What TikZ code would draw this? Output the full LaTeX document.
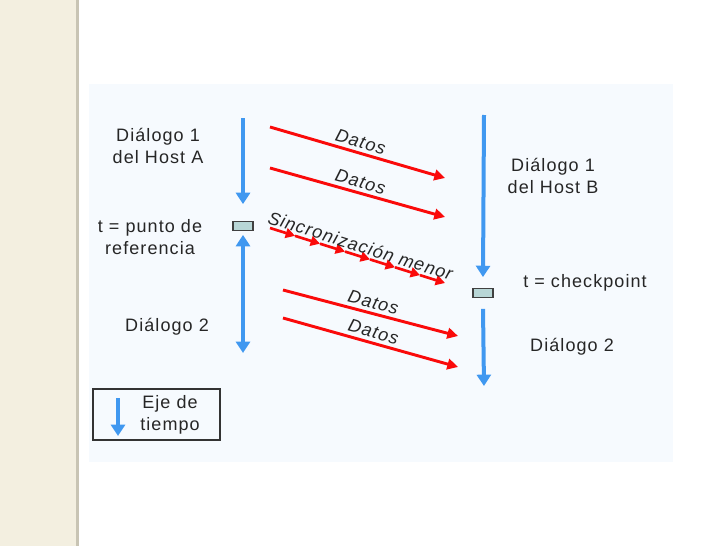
\documentclass[tikz,border=0pt]{standalone}
\usepackage{fontspec}
\setmainfont{Liberation Sans}[LetterSpace=6]
\usetikzlibrary{arrows.meta,calc}
\definecolor{ejeblue}{RGB}{64,152,240}
\definecolor{msgred}{RGB}{250,10,10}
\definecolor{boxfill}{RGB}{184,214,214}
\definecolor{panel}{RGB}{246,250,254}
\definecolor{beige}{RGB}{243,239,224}
\definecolor{beigeedge}{RGB}{200,196,180}

\begin{document}
\begin{tikzpicture}[
  x=0.75pt, y=-0.75pt,
  every node/.style={font=\fontsize{13.5}{16.5}\selectfont},
  tbox/.style={draw=black!75, fill=boxfill, line width=0.9pt, minimum width=15pt, minimum height=6.5pt, inner sep=0pt},
  eje/.style={draw=ejeblue, line width=3pt, -{Triangle[width=10.5pt,length=8.5pt]}},
  msg/.style={draw=msgred, line width=2.2pt, -{Triangle[width=8pt,length=8pt]}},
  sync/.style={draw=msgred, line width=2pt, -{Triangle[width=7.5pt,length=7pt]}},
  lbl/.style={align=center, text=black!85},
  etiq/.style={font=\fontsize{13.5}{16}\selectfont\itshape, text=black!85, sloped, above, inner sep=2.5pt}
]
\useasboundingbox (0,0) rectangle (728,546);
% background
\fill[beige] (0,0) rectangle (76,546);
\fill[beigeedge] (76,0) rectangle (79,546);
\fill[panel] (89,84) rectangle (673,462);

% checkpoints
\node[tbox] (tA) at (243,226) {};
\node[tbox] (tB) at (483,293) {};

% time axes
\coordinate (a1) at (243,118);
\coordinate (a2) at (243,353);
\coordinate (b1) at (484,115);
\coordinate (b2) at (484,386);
\draw[eje] (a1) -- ($(tA.north)+(0,-17)$);
\draw[eje, {Triangle[width=10.5pt,length=8.5pt]}-{Triangle[width=10.5pt,length=8.5pt]}] ($(tA.south)+(0,4)$) -- (a2);
\draw[eje] (b1) -- ($(tB.north)+(0,-11)$);
\draw[eje] ($(tB.south)+(0,11)$) -- (b2);

% messages
\coordinate (m1s) at (270,127); \coordinate (m1e) at (445,178);
\coordinate (m2s) at (270,168); \coordinate (m2e) at (445,217);
\coordinate (m3s) at (283,290); \coordinate (m3e) at (458,336);
\coordinate (m4s) at (283,318); \coordinate (m4e) at (458,367);
\coordinate (s0) at (270,228);  \coordinate (s1) at (445,283);
\draw[msg] (m1s) -- node[etiq] {Datos} (m1e);
\draw[msg] (m2s) -- node[etiq] {Datos} (m2e);
\draw[msg] (m3s) -- node[etiq] {Datos} (m3e);
\draw[msg] (m4s) -- node[etiq] {Datos} (m4e);
\foreach \i [evaluate=\i as \a using \i/7, evaluate=\i as \b using (\i+1)/7] in {0,...,6}
  \draw[sync] ($(s0)!\a!(s1)$) -- ($(s0)!\b!(s1)$);
\path (s0) -- node[etiq] {Sincronización menor} (s1);

% host A
\node[lbl] (dA1) at (158,146) {Diálogo 1\\del Host A};
\node[lbl] (refA) at (150,237) {t = punto de\\referencia};
\node[lbl] (dA2) at (167,327) {Diálogo 2};
% host B
\node[lbl] (dB1) at (553,176) {Diálogo 1\\del Host B};
\node[lbl] (chkB) at (585,283) {t = checkpoint};
\node[lbl] (dB2) at (572,347) {Diálogo 2};

% legend
\draw[black!80, line width=0.9pt] (93,389) rectangle (220,440);
\coordinate (l1) at (118,398);
\coordinate (l2) at (118,436);
\draw[eje] (l1) -- (l2);
\node[lbl] (leg) at (170,415) {Eje de\\tiempo};
\end{tikzpicture}
\end{document}
